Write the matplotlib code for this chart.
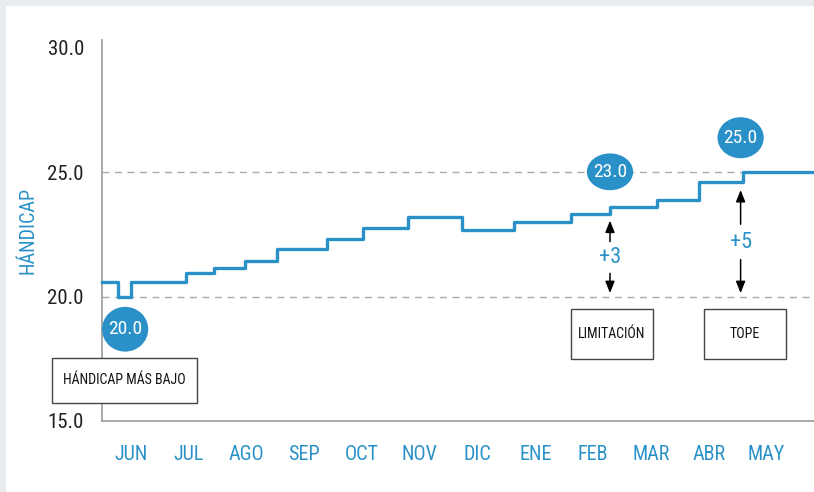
import matplotlib
matplotlib.use("Agg")
import matplotlib.pyplot as plt
from matplotlib import font_manager
from matplotlib.patches import Rectangle, Ellipse

# ---- font: prefer a condensed sans if installed ----
_names = {f.name for f in font_manager.fontManager.ttflist}
_cond = {f.name for f in font_manager.fontManager.ttflist
         if str(f.stretch) in ('condensed', 'semi-condensed', 'extra-condensed', '75', '87.5')}
FAM = None
for cand in ['Roboto Condensed', 'Liberation Sans Narrow', 'Open Sans Condensed', 'Noto Sans Condensed']:
    if cand in _names:
        FAM = cand
        break
if FAM is None and 'DejaVu Sans' in _cond:
    FAM = 'DejaVu Sans'
    plt.rcParams['font.stretch'] = 'condensed'
if FAM is None:
    FAM = 'Liberation Sans'
plt.rcParams['font.family'] = [FAM, 'DejaVu Sans']
NARROW = FAM != 'Liberation Sans'

# ---- data ----
months = ["JUN", "JUL", "AGO", "SEP", "OCT", "NOV", "DIC", "ENE", "FEB", "MAR", "ABR", "MAY"]
step_x = [-0.5, -0.22, 0.01, 0.95, 1.44, 1.97, 2.53, 3.39, 4.01, 4.79, 5.73, 6.63, 7.61, 8.29, 9.10, 9.83, 10.59, 11.82]
step_y = [20.6, 20.0, 20.6, 20.95, 21.15, 21.45, 21.9, 22.3, 22.78, 23.2, 22.67, 23.0, 23.32, 23.6, 23.9, 24.6, 25.0, 25.0]
yticks = [15.0, 20.0, 25.0, 30.0]
ref_lines = [20.0, 25.0]
bubble_labels = ["20.0", "23.0", "25.0"]
bubble_pos = [(-0.10, 18.69), (8.29, 25.02), (10.55, 26.39)]
bubble_size = [(0.80, 1.80), (0.80, 1.48), (0.80, 1.65)]
box_labels = ["HÁNDICAP MÁS BAJO", "LIMITACIÓN", "TOPE"]
box_rects = [(-1.367, 15.74, 2.509, 1.81), (7.61, 17.51, 1.42, 2.01), (9.91, 17.51, 1.42, 2.01)]
diff_labels = ["+3", "+5"]
diff_x = [8.29, 10.55]
diff_text_y = [21.57, 22.17]
diff_up = [(22.1, 23.17), (22.8, 24.4)]   # (start, tip)
diff_down = [(21.05, 20.03), (21.6, 20.03)]

BLUE = '#2a91c8'
FS_Y = 15 if NARROW else 13.5
FS_X = 14.5 if NARROW else 13
FS_BOX = 10 if NARROW else 9

fig = plt.figure(figsize=(8.14, 4.92), dpi=100, facecolor='#e9ecef')
fig.patches.append(Rectangle((6 / 814, 0), 1, (492 - 6) / 492, transform=fig.transFigure,
                             facecolor='white', edgecolor='none', zorder=-10))
ax = fig.add_axes([102 / 814, 71 / 492, 1 - 102 / 814, (421 - 40) / 492])
ax.set_facecolor('none')
ax.set_xlim(-0.5, 11.82)
ax.set_ylim(15.0, 30.32)

for sp in ['top', 'right']:
    ax.spines[sp].set_visible(False)
for sp in ['left', 'bottom']:
    ax.spines[sp].set_color('#9a9a9a')
    ax.spines[sp].set_linewidth(1.2)

ax.set_yticks(yticks)
ax.set_yticklabels([f"{v:.1f}" for v in yticks], fontsize=FS_Y, color='#222222')
ax.set_xticks(range(len(months)))
ax.set_xticklabels(months, fontsize=FS_X, color=BLUE)
ax.tick_params(axis='y', length=0, pad=13)
ax.tick_params(axis='x', length=0, pad=17)
ax.set_ylabel("HÁNDICAP", color=BLUE, fontsize=FS_X)
ax.yaxis.set_label_coords(-0.09, 0.5)

for v in ref_lines:
    ax.axhline(v, color='#aaaaaa', lw=1, ls=(0, (5, 4)), zorder=1)

ax.step(step_x, step_y, where='post', color=BLUE, lw=2.4, zorder=3, clip_on=False)

for lab, (cx, cy), (w, h) in zip(bubble_labels, bubble_pos, bubble_size):
    ax.add_patch(Ellipse((cx, cy), w, h, facecolor=BLUE, edgecolor='none', zorder=5, clip_on=False))
    ax.text(cx, cy, lab, color='white', fontsize=14, ha='center', va='center', zorder=6)

for lab, (x0, y0, w, h) in zip(box_labels, box_rects):
    ax.add_patch(Rectangle((x0, y0), w, h, facecolor='white', edgecolor='#444444', lw=1,
                           zorder=5, clip_on=False))
    ax.text(x0 + w / 2, y0 + h / 2, lab, color='#111111', fontsize=FS_BOX, ha='center', va='center', zorder=6)

for lab, x, ty, (u0, u1), (d0, d1) in zip(diff_labels, diff_x, diff_text_y, diff_up, diff_down):
    ax.text(x, ty, lab, color=BLUE, fontsize=16, ha='center', va='center', zorder=6)
    ax.annotate("", xy=(x, u1), xytext=(x, u0),
                arrowprops=dict(arrowstyle='-|>,head_length=0.7,head_width=0.28', color='black', lw=1.1))
    ax.annotate("", xy=(x, d1), xytext=(x, d0),
                arrowprops=dict(arrowstyle='-|>,head_length=0.7,head_width=0.28', color='black', lw=1.1))

fig.savefig("out.png", dpi=100, facecolor=fig.get_facecolor())
